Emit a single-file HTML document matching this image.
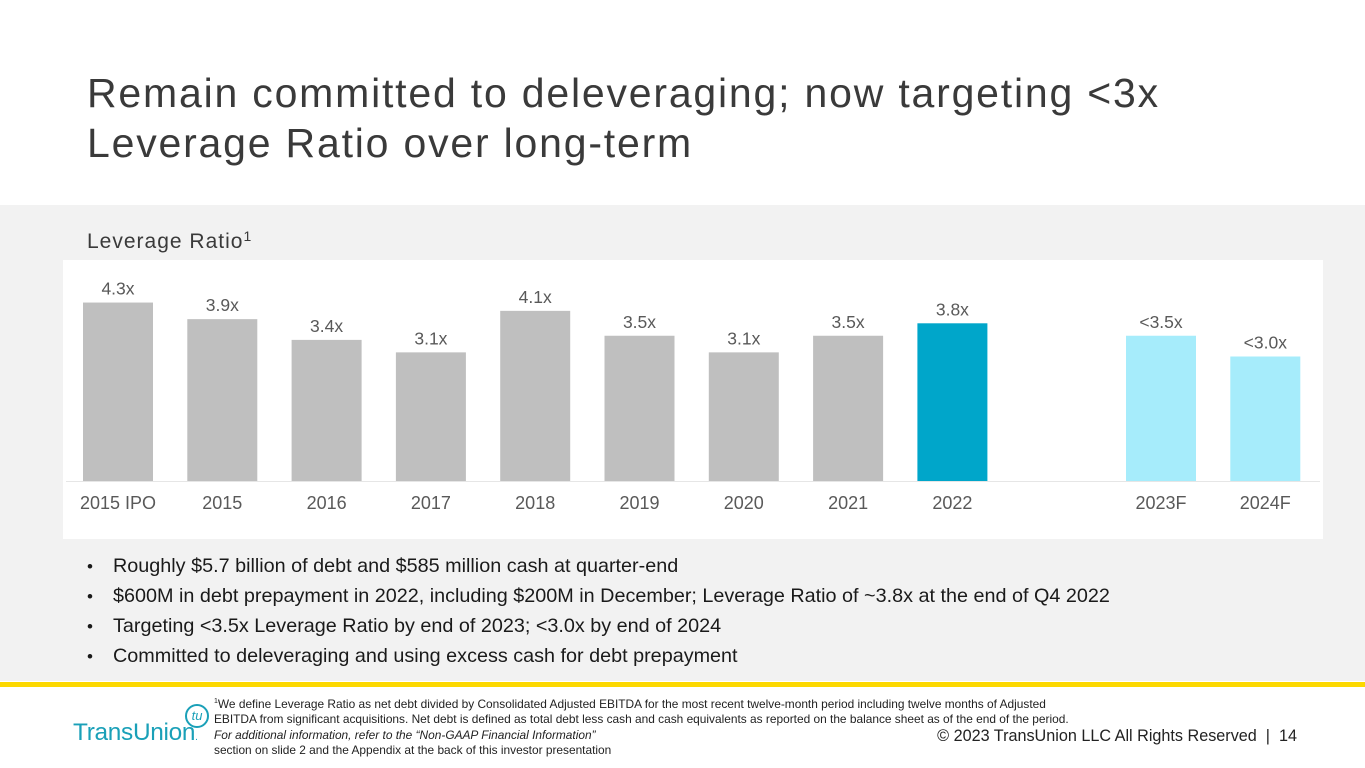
<!DOCTYPE html>
<html><head><meta charset="utf-8"><style>
body{margin:0;width:1365px;height:768px;position:relative;background:#fff;font-family:"Liberation Sans",sans-serif;overflow:hidden}
.abs{position:absolute}
h1{position:absolute;left:87px;top:68px;margin:0;font-weight:normal;font-size:41px;line-height:50px;letter-spacing:1.8px;color:#3a3a3a;white-space:nowrap}
#panel{left:0;top:205px;width:1365px;height:476px;background:#f2f2f2}
#sub{left:87px;top:228px;font-size:21px;letter-spacing:1px;color:#3a3a3a}
#sub sup{font-size:14px;vertical-align:7px}
#chartbox{left:63px;top:260px;width:1260px;height:279px;background:#fff}
ul{position:absolute;left:87px;top:555px;margin:0;padding:0;list-style:none;font-size:19.8px;color:#1a1a1a;white-space:nowrap}
ul li{height:30px}
ul li:before{content:"•";display:inline-block;width:26px;font-size:17px}
#yellow{left:0;top:682px;width:1365px;height:5px;background:#fcd800}
.fn{font-size:11.9px;color:#222;line-height:15px;white-space:nowrap}
</style></head><body>
<h1>Remain committed to deleveraging; now targeting &lt;3x<br>Leverage Ratio over long-term</h1>
<div id="panel" class="abs"></div>
<div id="sub" class="abs">Leverage Ratio<sup>1</sup></div>
<div id="chartbox" class="abs"></div>
<svg id="chart" class="abs" style="left:0;top:0" width="1365" height="768"></svg>
<ul>
<li>Roughly $5.7 billion of debt and $585 million cash at quarter-end</li>
<li>$600M in debt prepayment in 2022, including $200M in December; Leverage Ratio of ~3.8x at the end of Q4 2022</li>
<li>Targeting &lt;3.5x Leverage Ratio by end of 2023; &lt;3.0x by end of 2024</li>
<li>Committed to deleveraging and using excess cash for debt prepayment</li>
</ul>
<div id="yellow" class="abs"></div>
<div class="abs" style="left:73px;top:704px">
<span style="font-size:24.4px;color:#1aa0b8;letter-spacing:-0.3px;position:absolute;top:15px;white-space:nowrap">TransUnion<span style="font-size:10px">.</span></span>
<span style="position:absolute;left:112px;top:0;width:20px;height:20px;border:2px solid #1aa0b8;border-radius:50%;font-size:13px;color:#1aa0b8;text-align:center;line-height:19px;font-style:italic">tu</span>
</div>
<div class="abs fn" style="left:214px;top:694px"><sup style="font-size:7px">1</sup>We define Leverage Ratio as net debt divided by Consolidated Adjusted EBITDA for the most recent twelve-month period including twelve months of Adjusted<br>EBITDA from significant acquisitions. Net debt is defined as total debt less cash and cash equivalents as reported on the balance sheet as of the end of the period.</div>
<div class="abs fn" style="left:214px;top:728px"><i>For additional information, refer to the “Non-GAAP Financial Information”</i><br>section on slide 2 and the Appendix at the back of this investor presentation</div>
<div class="abs" style="right:68px;top:727px;font-size:16.2px;color:#222;white-space:nowrap">© 2023 TransUnion LLC All Rights Reserved &nbsp;| &nbsp;14</div>
<script>
const categories=["2015 IPO","2015","2016","2017","2018","2019","2020","2021","2022","","2023F","2024F"];
const values=[4.3,3.9,3.4,3.1,4.1,3.5,3.1,3.5,3.8,null,3.5,3.0];
const valueLabels=["4.3x","3.9x","3.4x","3.1x","4.1x","3.5x","3.1x","3.5x","3.8x","","<3.5x","<3.0x"];
const kinds=["h","h","h","h","h","h","h","h","c","","f","f"];
const svg=document.getElementById('chart');
const NS="http://www.w3.org/2000/svg";
const base=481,unit=41.5,x0=118,step=104.3,bw=70;
const xs=i=>x0+i*step, ys=v=>base-v*unit;
const colors={h:"#bfbfbf",c:"#00a6ca",f:"#a6ecfb"};
const ax=document.createElementNS(NS,'line');
ax.setAttribute('x1',66);ax.setAttribute('x2',1320);ax.setAttribute('y1',base+0.5);ax.setAttribute('y2',base+0.5);ax.setAttribute('stroke','#e6e6e6');


svg.appendChild(ax);
categories.forEach((c,i)=>{
 if(values[i]!=null){
  const r=document.createElementNS(NS,'rect');
  r.setAttribute('x',xs(i)-bw/2);r.setAttribute('y',ys(values[i]));r.setAttribute('width',bw);r.setAttribute('height',base-ys(values[i]));r.setAttribute('fill',colors[kinds[i]]);
  
  
  svg.appendChild(r);
  const t=document.createElementNS(NS,'text');
  t.setAttribute('x',xs(i));t.setAttribute('y',ys(values[i])-8);t.setAttribute('text-anchor','middle');t.setAttribute('font-size','17.5');t.setAttribute('fill','#595959');t.setAttribute('font-family','Liberation Sans, sans-serif');
  t.textContent=valueLabels[i];
  
  
  svg.appendChild(t);
 }
 if(c){
  const l=document.createElementNS(NS,'text');
  l.setAttribute('x',xs(i));l.setAttribute('y',509);l.setAttribute('text-anchor','middle');l.setAttribute('font-size','18');l.setAttribute('fill','#595959');l.setAttribute('font-family','Liberation Sans, sans-serif');
  l.textContent=c;
  
  
  svg.appendChild(l);
 }
});
</script>
</body></html>
